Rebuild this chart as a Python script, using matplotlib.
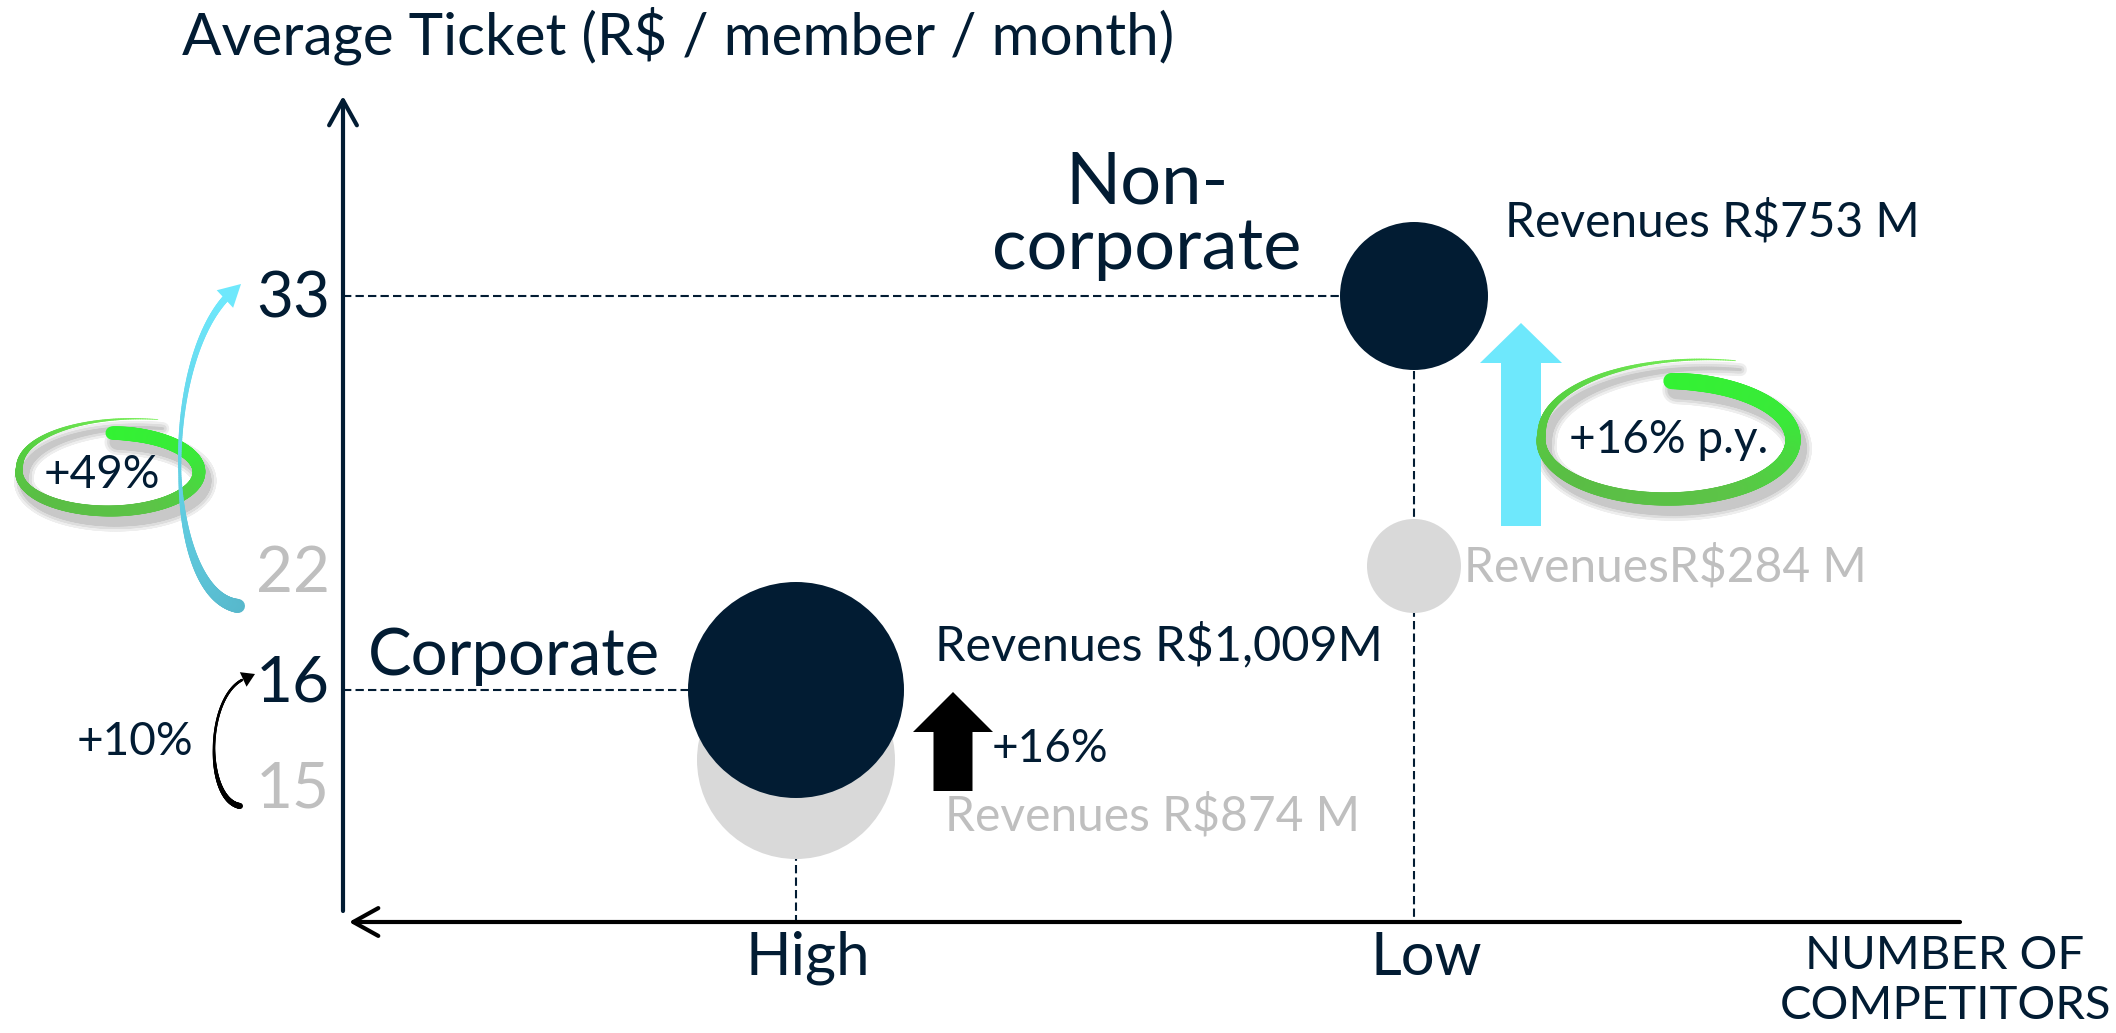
import numpy as np
import matplotlib
matplotlib.use('Agg')
import matplotlib.pyplot as plt
import matplotlib.transforms as mtransforms
from matplotlib.collections import LineCollection
from matplotlib.patches import FancyArrow, FancyArrowPatch, Polygon
from matplotlib.colors import LinearSegmentedColormap

W, H = 2116, 1033

# ---- data ----
competition = ['High', 'Low']
segments = ['Corporate', 'Non-\ncorporate']
ticket_before = [15, 22]
ticket_after = [16, 33]
revenue_before = [874, 284]
revenue_after = [1009, 753]
labels_before = ['Revenues R$874 M', 'RevenuesR$284 M']
labels_after = ['Revenues R$1,009M', 'Revenues R$753 M']
ticket_growth = ['+10%', '+49%']
revenue_growth = ['+16%', '+16% p.y.']

# ---- style ----
NAVY = '#021c33'
GRAY_TXT = '#bfbfbf'
GRAY_DOT = '#d9d9d9'
CYAN = '#6ee8fc'
plt.rcParams['font.family'] = ['Lato', 'DejaVu Sans']

x_px = [796, 1414]                         # where High / Low sit
y_anchor_val = [15, 16, 22, 33]            # schematic (not to scale) y axis
y_anchor_px = [760, 690, 566, 296]
dot_before_px = [198, 94]
dot_after_px = [216, 148]
AXIS_X, AXIS_Y = 343, 922


def px2pt(p):
    return np.asarray(p) * 72 / 100


fig = plt.figure(figsize=(W / 100, H / 100), dpi=100)
ax = fig.add_axes([0, 0, 1, 1], zorder=1)
ov = fig.add_axes([0, 0, 1, 1], zorder=2)
for a in (ax, ov):
    a.axis('off')
    a.patch.set_visible(False)
ov.set_xlim(0, W)
ov.set_ylim(H, 0)

# y scale: piecewise linear through the anchors, extended to figure edges
lo = y_anchor_val[0] - (H - y_anchor_px[0]) / ((y_anchor_px[0] - y_anchor_px[1]) / (y_anchor_val[1] - y_anchor_val[0]))
hi = y_anchor_val[-1] + y_anchor_px[-1] / ((y_anchor_px[-2] - y_anchor_px[-1]) / (y_anchor_val[-1] - y_anchor_val[-2]))
vals_ext = np.array([lo] + y_anchor_val + [hi], dtype=float)
pos_ext = H - np.array([H] + y_anchor_px + [0], dtype=float)


def fwd(v):
    return np.interp(v, vals_ext, pos_ext)


def inv(p):
    return np.interp(p, pos_ext, vals_ext)


ax.set_yscale('function', functions=(fwd, inv))
ax.set_ylim(lo, hi)
step = x_px[1] - x_px[0]
ax.set_xlim((0 - x_px[0]) / step, (W - x_px[0]) / step)

blend_y = mtransforms.blended_transform_factory(ov.transData, ax.transData)
blend_x = mtransforms.blended_transform_factory(ax.transData, ov.transData)


def to_data(px, py):
    disp = ov.transData.transform((px, py))
    return ax.transData.inverted().transform(disp)


axis_x_data = to_data(AXIS_X, 0)[0]
axis_y_data = to_data(0, AXIS_Y)[1]

# dashed guides
for i in range(2):
    ax.plot([axis_x_data, i], [ticket_after[i]] * 2, ls=(0, (4, 2)), lw=1.5, color=NAVY, zorder=1)
    ax.plot([i, i], [ticket_after[i], axis_y_data], ls=(0, (4, 2)), lw=1.5, color=NAVY, zorder=1)

# bubbles
ax.scatter(range(2), ticket_before, s=px2pt(dot_before_px) ** 2, color=GRAY_DOT, lw=0, zorder=2)
ax.scatter(range(2), ticket_after, s=px2pt(dot_after_px) ** 2, color=NAVY, lw=0, zorder=3)

# y "tick" labels
tick_shift = {15: -30, 16: 6, 22: -8, 33: -4}
for v in ticket_before:
    ax.annotate(str(v), (330, v), xycoords=blend_y, xytext=(0, tick_shift[v]), textcoords='offset pixels',
                ha='right', va='center', fontsize=46, color=GRAY_TXT)
for v in ticket_after:
    ax.annotate(str(v), (330, v), xycoords=blend_y, xytext=(0, tick_shift[v]), textcoords='offset pixels',
                ha='right', va='center', fontsize=46, color=NAVY)

# point labels
after_off = [(139, 45), (91, 74)]
after_size = [35, 34.5]
before_off = [(149, -56), (50, -1)]
for i in range(2):
    ax.annotate(labels_after[i], (i, ticket_after[i]), xytext=after_off[i], textcoords='offset pixels',
                ha='left', va='center', fontsize=after_size[i], color=NAVY)
    ax.annotate(labels_before[i], (i, ticket_before[i]), xytext=before_off[i], textcoords='offset pixels',
                ha='left', va='center', fontsize=34.5, color=GRAY_TXT)

seg_off = [(-282, 33), (-267, 80)]
seg_size = [47, 52]
for i in range(2):
    ax.annotate(segments[i], (i, ticket_after[i]), xytext=seg_off[i], textcoords='offset pixels',
                ha='center', va='center', fontsize=seg_size[i], color=NAVY, linespacing=1.0)

for i, name in enumerate(competition):
    ax.text(i + 12 / step, 958, name, transform=blend_x, ha='center', va='center', fontsize=43, color=NAVY)

# axes arrows
ov.add_patch(FancyArrowPatch((AXIS_X, 911), (AXIS_X, 96), arrowstyle='->,head_length=0.9,head_width=0.5',
                             mutation_scale=20, lw=3, color=NAVY, shrinkA=0, shrinkB=0))
ov.add_patch(FancyArrowPatch((1960, AXIS_Y), (349, AXIS_Y), arrowstyle='->,head_length=0.9,head_width=0.5',
                             mutation_scale=20, lw=3, color='black', shrinkA=0, shrinkB=0))

ov.text(182, 36, 'Average Ticket (R$ / member / month)', ha='left', va='center', fontsize=42, color=NAVY)
ov.text(1945, 981, 'NUMBER OF\nCOMPETITORS', ha='center', va='center', fontsize=34, color=NAVY, linespacing=1.26)

# straight growth arrows
ov.add_patch(FancyArrow(953, 791, 0, -99, width=39, head_width=80, head_length=40,
                        length_includes_head=True, color='black', lw=0))
ov.add_patch(FancyArrow(1521, 526, 0, -203, width=40, head_width=82, head_length=40,
                        length_includes_head=True, color=CYAN, lw=0, zorder=2.5))
ov.text(992, 749, revenue_growth[0], ha='left', va='center', fontsize=33, color=NAVY)


def bezier(p, n=200):
    t = np.linspace(0, 1, n)[:, None]
    p = np.array(p, dtype=float)
    return ((1 - t) ** 3 * p[0] + 3 * (1 - t) ** 2 * t * p[1] + 3 * (1 - t) * t ** 2 * p[2] + t ** 3 * p[3])


def stroke(pts, widths, cmap, z=3):
    segs = np.stack([pts[:-1], pts[1:]], axis=1)
    s = np.linspace(0, 1, len(segs))
    lc = LineCollection(segs, linewidths=px2pt(widths), colors=cmap(s), capstyle='round', zorder=z)
    ov.add_collection(lc)


def curved_arrow(ctrl, tip, w_knots, colors, head_len, head_hw):
    pts = bezier(ctrl)
    s = np.linspace(0, 1, len(pts) - 1)
    w = np.interp(s, [0, 0.5, 1], w_knots)
    stroke(pts, w, LinearSegmentedColormap.from_list('c', colors), z=3.5)
    d = np.array(tip, float) - pts[-1]
    d /= np.hypot(*d)
    n = np.array([-d[1], d[0]])
    base = np.array(tip) - d * head_len
    ov.add_patch(Polygon([tip, base + n * head_hw, base - n * head_hw], closed=True,
                         color=colors[-1], lw=0, zorder=3.5))


curved_arrow([(238, 606), (165, 595), (160, 370), (226, 298)], (241, 284), [14, 3, 7],
             ['#57b8cc', '#6ee8fc'], 22, 12)
curved_arrow([(240, 806), (205, 800), (205, 700), (242, 680)], (255, 674), [6, 2.5, 2.5],
             ['black', 'black'], 13, 8)


def swoosh(cx, cy, a, b, wmax, tail):
    t = np.radians(np.linspace(-88, 292, 500))
    deg = np.degrees(t)
    grow = 1 + (tail - 1) * np.clip((deg - 185) / 107, 0, 1) ** 1.3
    x = cx + a * grow * np.cos(t)
    y = cy + b * grow * np.sin(t)
    pts = np.column_stack([x, y])
    s = np.linspace(0, 1, len(pts) - 1)
    w = wmax * np.interp(s, [0, 0.03, 0.35, 0.6, 0.85, 1], [0.95, 1.0, 0.85, 0.7, 0.3, 0.05])
    # soft drop shadow, built from opaque light greys so overlaps don't darken
    for k, col in [(12, '#eeeeee'), (7, '#dddddd'), (2, '#c8c8c8')]:
        stroke(pts + np.array([5, 9]), w + k, LinearSegmentedColormap.from_list('sh', [col, col]), z=2)
    greens = LinearSegmentedColormap.from_list(
        'g', ['#33f233', '#3be83a', '#5cc447', '#5abd45', '#55cf40', '#7af05a'])
    stroke(pts, w, greens, z=3)


swoosh(1667, 440, 126, 59, 17, 1.45)
swoosh(109, 472, 90, 39, 14, 1.45)

ov.text(1669, 440, revenue_growth[1], ha='center', va='center', fontsize=33, color=NAVY, zorder=5)
ov.text(102, 475, ticket_growth[1], ha='center', va='center', fontsize=33, color=NAVY, zorder=5)
ov.text(135, 742, ticket_growth[0], ha='center', va='center', fontsize=33, color=NAVY, zorder=5)

fig.savefig('out.png', dpi=100)
